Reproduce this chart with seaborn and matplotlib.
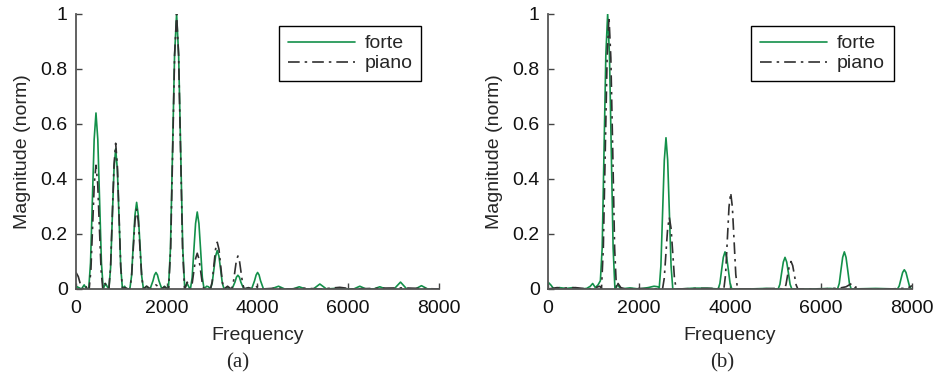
import matplotlib
matplotlib.use("Agg")
import matplotlib.pyplot as plt
import seaborn as sns
import pandas as pd

# ---------------- data ----------------
# Panel (a)
a_forte_f = [0, 60, 120, 180, 230,
             280, 320, 360, 400, 440, 480, 520, 560, 600, 650, 700,
             724, 762, 799, 837, 874, 911, 949, 986, 1024, 1070, 1110,
             1186, 1224, 1261, 1299, 1336, 1373, 1411, 1448, 1486, 1550, 1610,
             1632, 1697, 1730, 1762, 1795, 1827, 1892, 1950, 2010,
             2037, 2082, 2127, 2172, 2217, 2262, 2307, 2352, 2397, 2450, 2510,
             2522, 2560, 2597, 2635, 2672, 2709, 2747, 2784, 2822, 2880, 2920,
             2963, 3001, 3038, 3076, 3113, 3150, 3188, 3225, 3263, 3330, 3418,
             3438, 3503, 3536, 3568, 3601, 3633, 3698, 3780,
             3870, 3935, 3970, 4002, 4035, 4067, 4132,
             4300, 4464, 4600, 4780, 4920, 5060, 5230, 5374, 5520, 5700, 5815,
             5950, 6120, 6255, 6390, 6560, 6696, 6830, 7010, 7152, 7290, 7480,
             7614, 7750, 8000]
a_forte_m = [0.01, 0.005, 0.0, 0.015, 0.0,
             0.0, 0.096, 0.32, 0.544, 0.64, 0.544, 0.32, 0.096, 0.0, 0.02, 0.005,
             0.0, 0.077, 0.255, 0.434, 0.51, 0.434, 0.255, 0.077, 0.0, 0.01, 0.0,
             0.0, 0.047, 0.158, 0.268, 0.315, 0.268, 0.158, 0.047, 0.0, 0.01, 0.0,
             0.0, 0.03, 0.051, 0.06, 0.051, 0.03, 0.0, 0.01, 0.0,
             0.0, 0.15, 0.5, 0.85, 1.0, 0.85, 0.5, 0.15, 0.0, 0.02, 0.0,
             0.0, 0.042, 0.14, 0.238, 0.28, 0.238, 0.14, 0.042, 0.0, 0.01, 0.008,
             0.0, 0.021, 0.07, 0.119, 0.14, 0.119, 0.07, 0.021, 0.0, 0.005, 0.0,
             0.0, 0.025, 0.043, 0.05, 0.043, 0.025, 0.0, 0.003,
             0.0, 0.03, 0.051, 0.06, 0.051, 0.03, 0.0,
             0.0, 0.01, 0.0, 0.0, 0.008, 0.0, 0.0, 0.018, 0.0, 0.002, 0.004,
             0.0, 0.0, 0.01, 0.0, 0.0, 0.008, 0.0, 0.0, 0.025, 0.0, 0.0,
             0.012, 0.0, 0.0]

a_piano_f = [0, 50, 100, 150, 200, 250,
             290, 328, 365, 403, 440, 478, 515, 553, 590, 640, 690,
             724, 762, 799, 837, 874, 911, 949, 986, 1024, 1080, 1150,
             1186, 1224, 1261, 1299, 1336, 1373, 1411, 1448, 1486, 1560, 1640,
             1762, 1880, 1950, 2010,
             2042, 2086, 2130, 2173, 2217, 2261, 2305, 2348, 2392, 2450, 2510,
             2522, 2560, 2597, 2635, 2672, 2709, 2747, 2784, 2822, 2890,
             2963, 3001, 3038, 3076, 3113, 3150, 3188, 3225, 3263, 3340, 3418,
             3428, 3463, 3498, 3533, 3568, 3603, 3638, 3673, 3708, 3800, 3900,
             4002, 4100, 4400, 4700, 5000, 5400, 5815, 6100, 6700, 7200, 7600, 8000]
a_piano_m = [0.06, 0.045, 0.015, 0.0, 0.015, 0.0,
             0.0, 0.068, 0.225, 0.383, 0.45, 0.383, 0.225, 0.068, 0.0, 0.02, 0.0,
             0.0, 0.08, 0.265, 0.45, 0.53, 0.45, 0.265, 0.08, 0.0, 0.005, 0.0,
             0.0, 0.044, 0.145, 0.247, 0.29, 0.247, 0.145, 0.044, 0.0, 0.01, 0.0,
             0.015, 0.0, 0.008, 0.0,
             0.0, 0.15, 0.5, 0.85, 1.0, 0.85, 0.5, 0.15, 0.0, 0.025, 0.0,
             0.0, 0.02, 0.065, 0.11, 0.13, 0.11, 0.065, 0.02, 0.0, 0.005,
             0.0, 0.026, 0.085, 0.145, 0.17, 0.145, 0.085, 0.026, 0.0, 0.01, 0.0,
             0.0, 0.018, 0.06, 0.102, 0.12, 0.102, 0.06, 0.018, 0.0, 0.005, 0.0,
             0.01, 0.0, 0.003, 0.0, 0.003, 0.0, 0.006, 0.0, 0.003, 0.004, 0.002, 0.0]

# Panel (b)
b_forte_f = [0, 60, 130, 250, 400, 550, 700, 850, 930, 982, 1040, 1100,
             1151, 1191, 1231, 1271, 1311, 1351, 1391, 1431, 1471, 1530, 1600,
             1800, 2000, 2200, 2330, 2420,
             2443, 2481, 2518, 2556, 2593, 2630, 2668, 2705, 2743,
             2900, 3200, 3500,
             3740, 3778, 3815, 3853, 3890, 3927, 3965, 4002, 4040,
             4400, 4800,
             5059, 5097, 5134, 5172, 5209, 5246, 5284, 5321, 5359,
             5800, 6200,
             6363, 6401, 6438, 6476, 6513, 6550, 6588, 6625, 6663,
             7200,
             7681, 7719, 7756, 7794, 7831, 7868, 7906, 7943, 7981, 8000]
b_forte_m = [0.025, 0.015, 0.0, 0.005, 0.002, 0.005, 0.0, 0.002, 0.01, 0.02, 0.005, 0.015,
             0.03, 0.15, 0.5, 0.85, 1.0, 0.85, 0.5, 0.15, 0.0, 0.015, 0.0,
             0.004, 0.0, 0.005, 0.01, 0.008,
             0.0, 0.083, 0.275, 0.468, 0.55, 0.468, 0.275, 0.083, 0.0,
             0.0, 0.003, 0.003,
             0.0, 0.02, 0.068, 0.115, 0.135, 0.115, 0.068, 0.02, 0.0,
             0.0, 0.002,
             0.0, 0.017, 0.058, 0.098, 0.115, 0.098, 0.058, 0.017, 0.0,
             0.0, 0.002,
             0.0, 0.02, 0.068, 0.115, 0.135, 0.115, 0.068, 0.02, 0.0,
             0.002,
             0.0, 0.011, 0.035, 0.06, 0.07, 0.06, 0.035, 0.011, 0.0, 0.0]

b_piano_f = [0, 200, 350, 600, 900, 1050, 1130, 1170,
             1175, 1216, 1258, 1299, 1340, 1381, 1423, 1464, 1505, 1540, 1600, 1700,
             2000, 2400,
             2517, 2555, 2592, 2630, 2667, 2704, 2742, 2779, 2817,
             3300, 3700,
             3865, 3903, 3940, 3978, 4015, 4052, 4090, 4127, 4165,
             4600, 5000,
             5191, 5229, 5266, 5304, 5341, 5378, 5416, 5453, 5491,
             6000, 6400, 6550, 6675, 6750, 6800, 6850, 7500, 7900, 8000]
b_piano_m = [0.0, 0.005, 0.003, 0.005, 0.0, 0.005, 0.01, 0.005,
             0.0, 0.15, 0.5, 0.84, 0.99, 0.84, 0.5, 0.15, 0.0, 0.02, 0.005, 0.0,
             0.002, 0.0,
             0.0, 0.039, 0.13, 0.221, 0.26, 0.221, 0.13, 0.039, 0.0,
             0.002, 0.002,
             0.0, 0.053, 0.175, 0.298, 0.35, 0.298, 0.175, 0.053, 0.0,
             0.0, 0.002,
             0.0, 0.015, 0.05, 0.085, 0.1, 0.085, 0.05, 0.015, 0.0,
             0.0, 0.003, 0.008, 0.02, 0.005, 0.01, 0.0, 0.0, 0.003, 0.012]

series_labels = ["forte", "piano"]
x_ticks = [0, 2000, 4000, 6000, 8000]
y_ticks = [0, 0.2, 0.4, 0.6, 0.8, 1]
y_ticklabels = ["0", "0.2", "0.4", "0.6", "0.8", "1"]
captions = ["(a)", "(b)"]

# ---------------- drawing ----------------
sns.set_style("ticks")
plt.rcParams["font.family"] = ["Liberation Sans", "DejaVu Sans"]

GREEN = "#13904a"
DARK = "#303030"
FS = 14

fig = plt.figure(figsize=(9.35, 3.81), dpi=100)
ax_a = fig.add_axes([0.0813, 0.2415, 0.3882, 0.7218])
ax_b = fig.add_axes([0.5861, 0.2415, 0.3893, 0.7218])

panels = [
    (ax_a, a_forte_f, a_forte_m, a_piano_f, a_piano_m),
    (ax_b, b_forte_f, b_forte_m, b_piano_f, b_piano_m),
]

for i, (ax, ff, fm, pf, pm) in enumerate(panels):
    df_f = pd.DataFrame({"Frequency": ff, "Magnitude": fm})
    df_p = pd.DataFrame({"Frequency": pf, "Magnitude": pm})
    sns.lineplot(data=df_f, x="Frequency", y="Magnitude", ax=ax, color=GREEN,
                 linewidth=1.2, label=series_labels[0], sort=False)
    sns.lineplot(data=df_p, x="Frequency", y="Magnitude", ax=ax, color=DARK,
                 linewidth=1.2, linestyle=(0, (7, 3, 1.5, 3)),
                 label=series_labels[1], sort=False)
    ax.set_xlim(0, 8000)
    ax.set_ylim(0, 1)
    ax.set_xticks(x_ticks)
    ax.set_xticklabels([str(t) for t in x_ticks])
    ax.set_yticks(y_ticks)
    ax.set_yticklabels(y_ticklabels)
    ax.tick_params(direction="in", length=4, width=1.0, color="#444444",
                   labelsize=FS, labelcolor="#111111")
    ax.tick_params(axis="x", pad=8)
    ax.tick_params(axis="y", pad=6)
    ax.set_xlabel("Frequency", fontsize=FS, labelpad=7)
    ax.set_ylabel("Magnitude (norm)", fontsize=FS, labelpad=7)
    for s in ["top", "right"]:
        ax.spines[s].set_visible(False)
    for s in ["left", "bottom"]:
        ax.spines[s].set_color("#555555")
        ax.spines[s].set_linewidth(1.3)
    leg = ax.legend(loc="upper left", bbox_to_anchor=(0.559, 0.956),
                    borderaxespad=0, fontsize=FS, frameon=True, fancybox=False,
                    handlelength=3.45, handletextpad=0.5, borderpad=0.45,
                    labelspacing=0.12)
    leg.get_frame().set_edgecolor("black")
    leg.get_frame().set_linewidth(1.0)
    leg.get_frame().set_alpha(1)

fig.text(238 / 935, 1 - 363 / 381, captions[0], ha="center", va="center",
         fontsize=15, family=["Liberation Serif", "DejaVu Serif"])
fig.text(722 / 935, 1 - 363 / 381, captions[1], ha="center", va="center",
         fontsize=15, family=["Liberation Serif", "DejaVu Serif"])

fig.savefig("out.png", dpi=100)
